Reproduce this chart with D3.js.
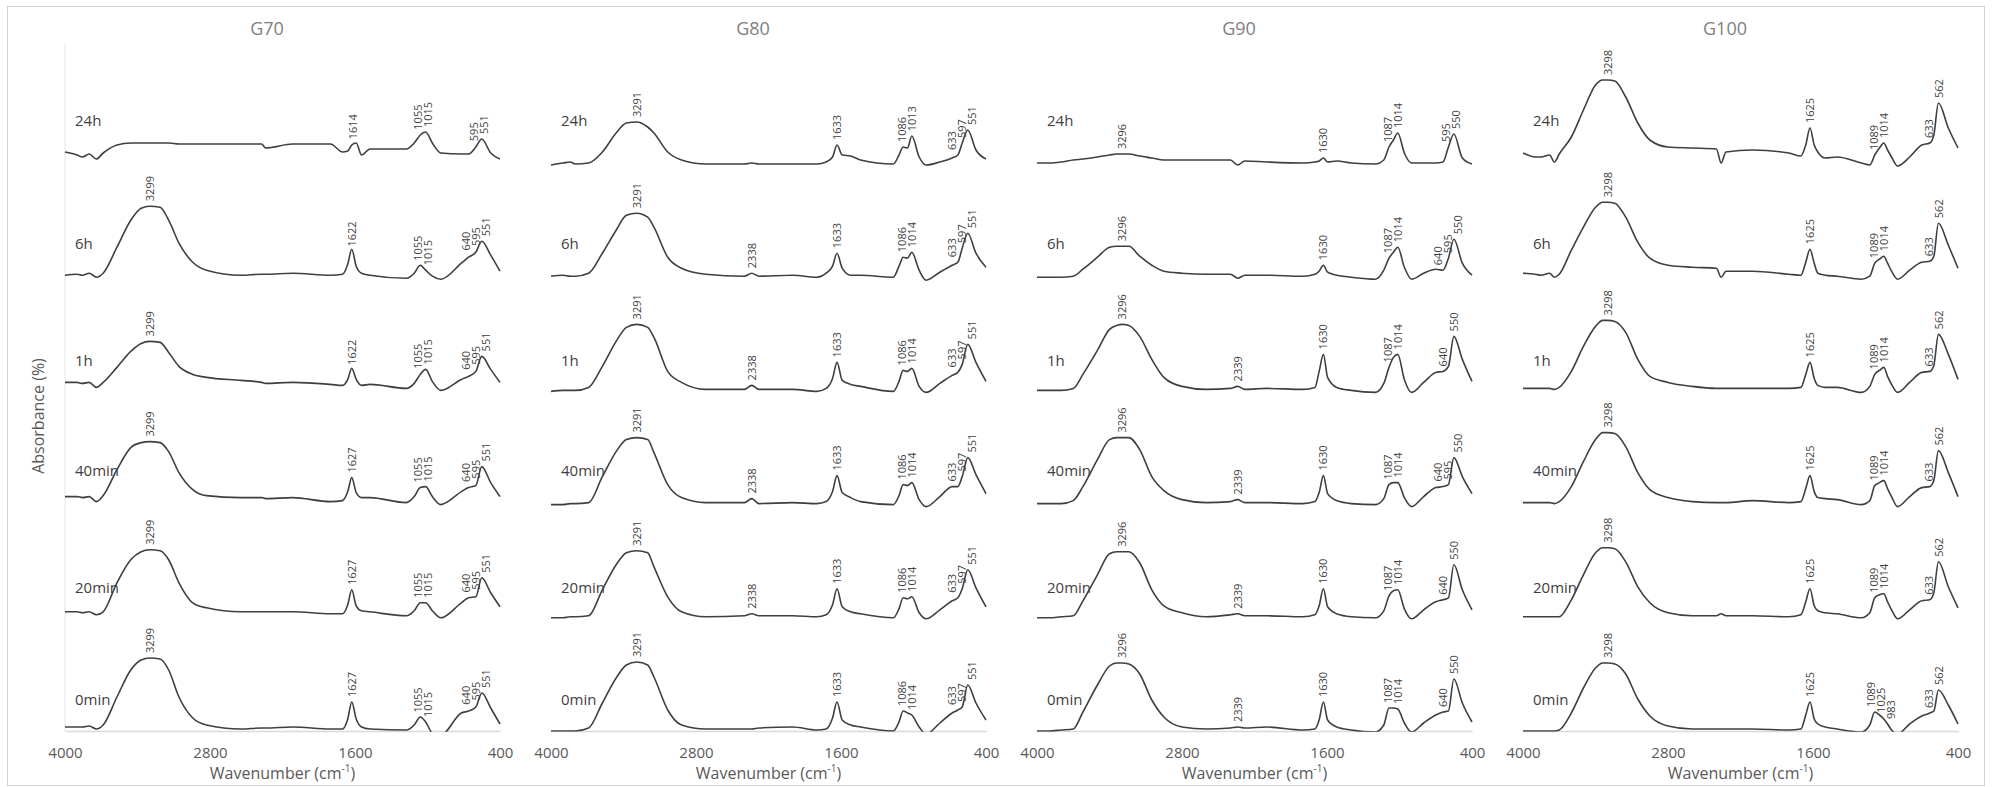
<!DOCTYPE html>
<html>
<head>
<meta charset="utf-8">
<script src="https://cdn.jsdelivr.net/npm/d3@7"></script>
<style>
  body { margin: 0; background: #ffffff; }
  svg text { font-family: "Open Sans", "Noto Sans", sans-serif; }
</style>
</head>
<body>
<svg id="chart" width="1995" height="787"></svg>
<script>
// ---------------- DATA ----------------
const panels = ["G70", "G80", "G90", "G100"];
const times = ["0min", "20min", "40min", "1h", "6h", "24h"];
const xTicks = [4000, 2800, 1600, 400];

// wavenumber grids (cm-1) per panel
const wnG70 = [4000,3900,3855,3800,3740,3684,3570,3456,3370,3299,3213,3142,3057,2943,2829,2544,2373,2340,2116,1803,1703,1660,1627,1590,1546,1475,1176,1110,1060,1015,960,890,720,660,600,551,477,400];
const wnG80 = [4000,3900,3840,3800,3689,3575,3461,3376,3291,3200,3148,3034,2920,2720,2400,2338,2280,2000,1800,1723,1670,1633,1590,1520,1438,1167,1120,1086,1050,1014,953,896,782,680,633,597,551,483,400];
const wnG90 = [4000,3900,3800,3700,3620,3500,3400,3340,3296,3240,3150,3050,2950,2800,2600,2400,2339,2280,2100,1800,1700,1665,1630,1595,1520,1400,1200,1130,1087,1050,1014,960,900,800,700,640,595,550,480,400];
const wnG100 = [4000,3900,3850,3780,3740,3700,3600,3500,3400,3340,3298,3240,3150,3050,2950,2800,2600,2400,2360,2320,2100,1800,1700,1660,1625,1590,1560,1500,1400,1200,1130,1089,1050,1014,983,950,900,800,700,633,600,562,480,400];

// absorbance (a.u., above each trace's own offset) — rows: 0min, 20min, 40min, 1h, 6h, 24h
const g70 = [
  [0.04,0.04,0.04,0.05,0.02,0.06,0.34,0.61,0.71,0.73,0.72,0.61,0.34,0.13,0.06,0.02,0.03,0.03,0.04,0.02,0.02,0.12,0.29,0.12,0.04,0.02,0.01,0.06,0.14,0.09,-0.02,-0.04,0.18,0.20,0.24,0.38,0.23,0.07],
  [0.06,0.06,0.05,0.06,0.03,0.06,0.35,0.58,0.66,0.68,0.67,0.58,0.35,0.15,0.10,0.06,0.06,0.06,0.06,0.04,0.04,0.13,0.28,0.12,0.07,0.06,0.02,0.07,0.15,0.15,0.07,0.00,0.15,0.20,0.21,0.40,0.25,0.11],
  [0.08,0.08,0.07,0.08,0.03,0.09,0.35,0.57,0.62,0.63,0.62,0.53,0.32,0.15,0.09,0.07,0.07,0.06,0.07,0.03,0.04,0.13,0.27,0.12,0.07,0.07,0.02,0.08,0.17,0.18,0.08,0.00,0.13,0.17,0.19,0.38,0.22,0.08],
  [0.09,0.09,0.08,0.09,0.04,0.09,0.24,0.40,0.48,0.50,0.49,0.39,0.25,0.17,0.14,0.11,0.09,0.08,0.09,0.07,0.06,0.12,0.23,0.12,0.06,0.07,0.03,0.08,0.17,0.22,0.10,0.01,0.12,0.15,0.20,0.35,0.22,0.09],
  [0.03,0.04,0.03,0.05,0.01,0.05,0.31,0.58,0.70,0.72,0.71,0.58,0.35,0.16,0.08,0.03,0.04,0.04,0.05,0.03,0.04,0.14,0.29,0.12,0.05,0.03,0.00,0.05,0.13,0.08,0.02,-0.01,0.15,0.21,0.26,0.37,0.23,0.07],
  [0.13,0.10,0.08,0.11,0.06,0.12,0.20,0.22,0.22,0.22,0.22,0.22,0.21,0.21,0.21,0.21,0.21,0.17,0.21,0.21,0.13,0.14,0.20,0.22,0.10,0.16,0.16,0.22,0.30,0.33,0.22,0.12,0.11,0.11,0.18,0.26,0.12,0.06]
];
const g80 = [
  [0.00,0.00,0.00,0.00,0.03,0.28,0.53,0.66,0.69,0.66,0.54,0.21,0.06,0.02,0.02,0.02,0.03,0.04,0.01,0.02,0.13,0.29,0.11,0.06,0.04,0.00,0.09,0.20,0.18,0.16,0.04,-0.03,0.08,0.18,0.21,0.24,0.46,0.28,0.11],
  [0.00,0.00,0.01,0.01,0.02,0.28,0.53,0.65,0.67,0.65,0.51,0.21,0.06,0.01,0.02,0.04,0.02,0.02,0.01,0.03,0.13,0.29,0.11,0.06,0.04,0.00,0.09,0.20,0.19,0.21,0.05,-0.01,0.08,0.17,0.20,0.29,0.48,0.30,0.11],
  [0.00,0.00,0.01,0.01,0.02,0.28,0.53,0.65,0.67,0.65,0.52,0.20,0.07,0.02,0.02,0.06,0.01,0.02,0.01,0.03,0.13,0.29,0.12,0.07,0.03,0.00,0.09,0.20,0.19,0.22,0.05,-0.02,0.08,0.18,0.18,0.28,0.47,0.30,0.11],
  [0.00,0.01,0.01,0.01,0.04,0.25,0.50,0.64,0.67,0.64,0.54,0.20,0.09,0.02,0.02,0.06,0.02,0.02,0.00,0.03,0.13,0.29,0.11,0.07,0.05,0.00,0.10,0.21,0.20,0.23,0.05,-0.01,0.08,0.16,0.19,0.27,0.47,0.29,0.10],
  [0.02,0.03,0.02,0.02,0.05,0.25,0.48,0.63,0.65,0.61,0.51,0.21,0.10,0.04,0.02,0.05,0.02,0.03,0.01,0.05,0.12,0.25,0.10,0.03,0.03,0.01,0.12,0.21,0.20,0.26,0.08,-0.02,0.06,0.13,0.16,0.30,0.45,0.25,0.11],
  [0.00,0.02,0.03,0.01,0.02,0.13,0.32,0.42,0.43,0.38,0.32,0.13,0.05,0.01,0.01,0.02,0.01,0.01,0.01,0.03,0.08,0.20,0.10,0.09,0.05,0.01,0.10,0.18,0.17,0.29,0.08,0.00,0.03,0.07,0.10,0.22,0.35,0.15,0.06]
];
const g90 = [
  [0.00,0.00,0.01,0.02,0.19,0.46,0.65,0.68,0.68,0.67,0.57,0.31,0.14,0.04,0.02,0.03,0.04,0.03,0.04,0.01,0.02,0.11,0.29,0.11,0.04,0.01,-0.01,0.06,0.23,0.23,0.22,0.08,-0.01,0.08,0.16,0.19,0.20,0.52,0.28,0.09],
  [0.00,0.00,0.01,0.02,0.17,0.43,0.64,0.66,0.66,0.66,0.55,0.28,0.12,0.05,0.01,0.03,0.04,0.02,0.02,0.01,0.03,0.12,0.29,0.11,0.04,0.01,0.00,0.07,0.22,0.27,0.28,0.09,-0.01,0.08,0.16,0.18,0.20,0.53,0.28,0.08],
  [0.01,0.01,0.01,0.04,0.18,0.45,0.65,0.67,0.67,0.67,0.55,0.28,0.14,0.05,0.02,0.03,0.05,0.02,0.02,0.01,0.03,0.12,0.29,0.11,0.04,0.01,0.00,0.06,0.20,0.22,0.22,0.07,-0.02,0.08,0.17,0.18,0.20,0.47,0.28,0.11],
  [0.01,0.01,0.01,0.03,0.17,0.41,0.62,0.66,0.67,0.66,0.55,0.32,0.14,0.05,0.02,0.03,0.05,0.02,0.03,0.02,0.04,0.20,0.37,0.14,0.04,0.01,-0.01,0.08,0.24,0.34,0.37,0.12,-0.01,0.09,0.19,0.20,0.25,0.55,0.32,0.10],
  [0.01,0.01,0.01,0.02,0.09,0.21,0.31,0.32,0.32,0.32,0.22,0.13,0.07,0.05,0.04,0.04,0.00,0.03,0.03,0.02,0.04,0.07,0.13,0.06,0.03,0.01,-0.01,0.08,0.20,0.26,0.31,0.11,-0.01,0.05,0.09,0.08,0.20,0.39,0.15,0.03],
  [0.02,0.02,0.03,0.05,0.06,0.08,0.10,0.11,0.11,0.11,0.09,0.07,0.05,0.05,0.05,0.05,0.00,0.04,0.03,0.02,0.03,0.04,0.07,0.03,0.04,0.02,0.01,0.05,0.18,0.25,0.32,0.12,0.02,0.02,0.02,0.03,0.18,0.31,0.07,0.01]
];
const g100 = [
  [0.00,0.00,0.00,0.00,0.00,0.01,0.18,0.43,0.63,0.68,0.68,0.67,0.57,0.32,0.15,0.05,0.02,0.02,0.02,0.02,0.02,0.01,0.02,0.16,0.29,0.12,0.07,0.04,0.02,-0.01,0.06,0.19,0.16,0.12,0.07,0.01,-0.03,0.07,0.15,0.18,0.20,0.41,0.26,0.07],
  [0.01,0.01,0.01,0.01,0.01,0.01,0.18,0.43,0.65,0.70,0.70,0.69,0.56,0.31,0.15,0.05,0.02,0.02,0.04,0.02,0.02,0.01,0.03,0.16,0.29,0.12,0.07,0.05,0.04,0.00,0.05,0.20,0.23,0.24,0.16,0.08,-0.01,0.08,0.17,0.18,0.25,0.56,0.31,0.10],
  [0.02,0.02,0.02,0.02,0.01,0.03,0.18,0.43,0.65,0.72,0.72,0.71,0.58,0.32,0.15,0.07,0.03,0.02,0.02,0.02,0.04,0.02,0.03,0.16,0.29,0.13,0.07,0.06,0.05,0.00,0.04,0.19,0.22,0.24,0.16,0.08,-0.02,0.08,0.17,0.18,0.24,0.54,0.32,0.08],
  [0.03,0.03,0.03,0.03,0.02,0.04,0.20,0.45,0.65,0.71,0.71,0.70,0.59,0.32,0.15,0.09,0.05,0.03,0.03,0.03,0.03,0.03,0.04,0.17,0.29,0.13,0.06,0.04,0.04,-0.01,0.05,0.17,0.21,0.24,0.15,0.07,-0.01,0.09,0.19,0.20,0.26,0.57,0.37,0.12],
  [0.05,0.04,0.03,0.05,0.01,0.04,0.28,0.51,0.71,0.76,0.76,0.75,0.61,0.36,0.20,0.13,0.11,0.10,0.01,0.07,0.07,0.04,0.03,0.16,0.29,0.15,0.05,0.03,0.02,-0.01,0.02,0.15,0.19,0.22,0.15,0.07,-0.01,0.08,0.16,0.17,0.22,0.55,0.33,0.10],
  [0.12,0.08,0.08,0.10,0.03,0.11,0.28,0.55,0.80,0.85,0.85,0.84,0.68,0.42,0.25,0.18,0.17,0.16,0.02,0.13,0.15,0.12,0.09,0.20,0.37,0.20,0.13,0.07,0.08,0.02,0.00,0.10,0.17,0.22,0.15,0.08,-0.01,0.08,0.20,0.22,0.30,0.62,0.37,0.17]
];

// peak labels (cm-1), rows: 0min, 20min, 40min, 1h, 6h, 24h
const g70Peaks = [
  [3299,1627,1055,1015,640,595,551],
  [3299,1627,1055,1015,640,595,551],
  [3299,1627,1055,1015,640,595,551],
  [3299,1622,1055,1015,640,595,551],
  [3299,1622,1055,1015,640,595,551],
  [1614,1055,1015,595,551]
];
const g80Peaks = [
  [3291,1633,1086,1014,633,597,551],
  [3291,2338,1633,1086,1014,633,597,551],
  [3291,2338,1633,1086,1014,633,597,551],
  [3291,2338,1633,1086,1014,633,597,551],
  [3291,2338,1633,1086,1014,633,597,551],
  [3291,1633,1086,1013,633,597,551]
];
const g90Peaks = [
  [3296,2339,1630,1087,1014,640,550],
  [3296,2339,1630,1087,1014,640,550],
  [3296,2339,1630,1087,1014,640,595,550],
  [3296,2339,1630,1087,1014,640,550],
  [3296,1630,1087,1014,640,595,550],
  [3296,1630,1087,1014,595,550]
];
const g100Peaks = [
  [3298,1625,1089,1025,983,633,562],
  [3298,1625,1089,1014,633,562],
  [3298,1625,1089,1014,633,562],
  [3298,1625,1089,1014,633,562],
  [3298,1625,1089,1014,633,562],
  [3298,1625,1089,1014,633,562]
];

const offsetStep = 1.132; // vertical offset between stacked traces (a.u.)

// ---------------- LAYOUT ----------------
const panelData = [
  { grid: wnG70, rows: g70, peaks: g70Peaks },
  { grid: wnG80, rows: g80, peaks: g80Peaks },
  { grid: wnG90, rows: g90, peaks: g90Peaks },
  { grid: wnG100, rows: g100, peaks: g100Peaks }
];
const plotW = 435;
const panelLeft = i => 65 + i * 486;
const rowLabelLift = [31, 30, 34, 30, 34, 44];
const lineColor = "#3f3f3f";
const textColor = "#404040";
const axisTextColor = "#595959";

const svg = d3.select("#chart");

svg.append("rect")
  .attr("x", 7.5).attr("y", 6.5).attr("width", 1977).attr("height", 779)
  .attr("fill", "none").attr("stroke", "#d4d4d4").attr("stroke-width", 1);

const y = d3.scaleLinear().domain([0, 6.88]).range([731, 43]);

function valAt(wn, grid, vals) {
  for (let j = 0; j < grid.length - 1; j++) {
    if (wn <= grid[j] && wn >= grid[j + 1]) {
      const t = (grid[j] - wn) / (grid[j] - grid[j + 1]);
      return vals[j] + (vals[j + 1] - vals[j]) * t;
    }
  }
  return vals[vals.length - 1];
}

function spread(xs, gap) {
  const a = xs.slice();
  for (let it = 0; it < 200; it++) {
    let moved = false;
    for (let j = 0; j < a.length - 1; j++) {
      const d = a[j + 1] - a[j];
      if (d < gap - 0.01) {
        const s = (gap - d) / 2;
        a[j] -= s; a[j + 1] += s; moved = true;
      }
    }
    if (!moved) break;
  }
  return a;
}

// y-axis title
svg.append("text")
  .attr("transform", "translate(38,416) rotate(-90)")
  .attr("text-anchor", "middle")
  .attr("dominant-baseline", "central")
  .attr("font-size", 16)
  .attr("fill", axisTextColor)
  .text("Absorbance (%)");

panels.forEach((name, i) => {
  const pd = panelData[i];
  const x0 = panelLeft(i);
  const x = d3.scaleLinear().domain([4000, 400]).range([x0, x0 + plotW]);
  const g = svg.append("g");

  // title
  g.append("text")
    .attr("x", x0 + 202).attr("y", 35)
    .attr("text-anchor", "middle")
    .attr("font-size", 18)
    .attr("fill", "#808080")
    .text(name);

  // vertical axis line (visible only on the first panel)
  if (i === 0) {
    g.append("line")
      .attr("x1", x0).attr("x2", x0)
      .attr("y1", y(y.domain()[1])).attr("y2", y(0))
      .attr("stroke", "#e6e6e6").attr("stroke-width", 1);
  }

  // x axis
  const ax = g.append("g")
    .attr("transform", `translate(0,${y(0)})`)
    .call(d3.axisBottom(x).tickValues(xTicks).tickSize(0).tickSizeOuter(0)
      .tickPadding(16).tickFormat(d3.format("d")));
  ax.select(".domain").attr("stroke", "#d9d9d9").attr("stroke-width", 1.3);
  ax.selectAll(".tick text")
    .attr("font-size", 15)
    .attr("font-family", '"Open Sans", "Noto Sans", sans-serif')
    .attr("fill", axisTextColor);

  // x axis title
  const t = g.append("text")
    .attr("x", x0 + plotW / 2).attr("y", 779)
    .attr("text-anchor", "middle")
    .attr("font-size", 16)
    .attr("fill", axisTextColor);
  t.append("tspan").text("Wavenumber (cm");
  t.append("tspan").attr("font-size", 10).attr("dy", -7).text("-1");
  t.append("tspan").attr("dy", 7).text(")");

  // clip below axis
  const clipId = "clip" + i;
  svg.append("clipPath").attr("id", clipId)
    .append("rect")
    .attr("x", x0 - 3).attr("y", 0)
    .attr("width", plotW + 6).attr("height", y(0) + 0.8);

  const line = d3.line()
    .x(d => x(d[0]))
    .y(d => y(d[1]))
    .curve(d3.curveMonotoneX);

  pd.rows.forEach((vals, k) => {
    const off = k * offsetStep;
    const pts = pd.grid.map((wn, j) => [wn, vals[j] + off]);

    g.append("path")
      .attr("d", line(pts))
      .attr("fill", "none")
      .attr("stroke", lineColor)
      .attr("stroke-width", 1.6)
      .attr("stroke-linejoin", "round")
      .attr("clip-path", `url(#${clipId})`);

    // time label
    g.append("text")
      .attr("x", x0 + 10)
      .attr("y", y(off) - rowLabelLift[k] + 5)
      .attr("font-size", 15)
      .attr("fill", textColor)
      .text(times[k]);

    // peak labels
    const peaks = pd.peaks[k];
    const xs = spread(peaks.map(w => x(w)), 10);
    peaks.forEach((w, m) => {
      const yc = y(off + valAt(w, pd.grid, vals));
      g.append("text")
        .attr("transform", `translate(${xs[m]},${yc - 5}) rotate(-90)`)
        .attr("dy", "0.35em")
        .attr("text-anchor", "start")
        .attr("font-size", 11)
        .attr("fill", textColor)
        .text(w);
    });
  });
});
</script>
</body>
</html>
